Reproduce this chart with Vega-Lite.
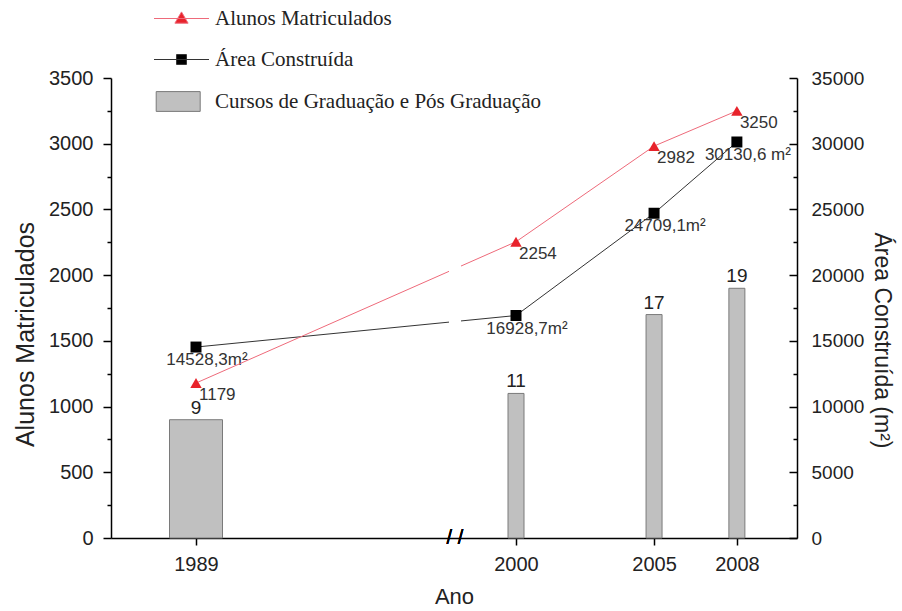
{
  "$schema": "https://vega.github.io/schema/vega-lite/v6.json",
  "width": 686,
  "height": 460,
  "autosize": {"type": "none"},
  "padding": {"left": 111, "top": 78, "right": 105, "bottom": 73},
  "background": "white",
  "config": {
    "view": {"stroke": null},
    "axis": {
      "labelFont": "Liberation Sans",
      "titleFont": "Liberation Sans",
      "labelColor": "#222222",
      "titleColor": "#222222",
      "titleFontWeight": "normal",
      "domainColor": "#000000",
      "domainWidth": 1.5,
      "tickColor": "#000000",
      "tickWidth": 1.5,
      "grid": false
    },
    "legend": {
      "orient": "none",
      "legendX": 60,
      "legendY": -70,
      "padding": 0,
      "symbolSize": 121,
      "symbolStrokeWidth": 1,
      "symbolOpacity": 1,
      "labelFont": "Liberation Serif",
      "labelFontSize": 21,
      "labelColor": "#222222",
      "labelOffset": 23,
      "labelLimit": 0,
      "rowPadding": 19
    }
  },
  "datasets": {
    "dados": [
      {"Ano": 1989, "Alunos": 1179, "Area": 14528.3, "AreaLabel": "14528,3m²", "Cursos": 9},
      {"Ano": 2000, "Alunos": 2254, "Area": 16928.7, "AreaLabel": "16928,7m²", "Cursos": 11},
      {"Ano": 2005, "Alunos": 2982, "Area": 24709.1, "AreaLabel": "24709,1m²", "Cursos": 17},
      {"Ano": 2008, "Alunos": 3250, "Area": 30130.6, "AreaLabel": "30130,6 m²", "Cursos": 19}
    ],
    "legenda": [
      {"serie": "Alunos Matriculados"},
      {"serie": "Área Construída"},
      {"serie": "Cursos de Graduação e Pós Graduação"}
    ]
  },
  "data": {"name": "dados"},
  "encoding": {
    "x": {
      "field": "Ano",
      "type": "quantitative",
      "scale": {"domain": [1986, 1989, 2000, 2010], "range": [0, 85, 405, 686], "zero": false, "nice": false},
      "axis": {
        "values": [1989, 2000, 2005, 2008],
        "format": "d",
        "title": "Ano",
        "titleFontSize": 22,
        "titlePadding": 12,
        "labelFontSize": 20,
        "tickSize": 7,
        "labelPadding": 9
      }
    }
  },
  "layer": [
    {
      "encoding": {
        "y": {"field": "Cursos", "type": "quantitative", "scale": {"domain": [0, 35], "nice": false}, "axis": null}
      },
      "layer": [
        {
          "mark": {"type": "bar", "fill": "#c0c0c0", "stroke": "#7a7a7a", "strokeWidth": 1},
          "encoding": {"size": {"condition": {"test": "datum.Ano === 1989", "value": 53}, "value": 16}}
        },
        {
          "mark": {"type": "text", "baseline": "bottom", "dy": -2, "fontSize": 19, "font": "Liberation Sans", "color": "#222222"},
          "encoding": {"text": {"field": "Cursos", "type": "quantitative"}}
        }
      ]
    },
    {
      "encoding": {
        "y": {
          "field": "Area",
          "type": "quantitative",
          "scale": {"domain": [0, 35000], "nice": false},
          "axis": {
            "orient": "right",
            "values": [0, 2500, 5000, 7500, 10000, 12500, 15000, 17500, 20000, 22500, 25000, 27500, 30000, 32500, 35000],
            "labelExpr": "datum.value % 5000 === 0 ? datum.label : ''",
            "format": "d",
            "tickSize": {"condition": {"test": "datum.value % 5000 === 0", "value": -8}, "value": -4},
            "labelPadding": 22,
            "labelFontSize": 19,
            "title": "Área Construída (m²)",
            "titleFontSize": 23,
            "titlePadding": 6,
            "titleY": 262
          }
        }
      },
      "layer": [
        {"mark": {"type": "line", "color": "#333333", "strokeWidth": 1}},
        {"mark": {"type": "point", "shape": "square", "filled": true, "color": "#000000", "size": 121, "opacity": 1}},
        {
          "mark": {"type": "text", "align": "center", "baseline": "middle", "dx": 11, "dy": 13, "fontSize": 17, "font": "Liberation Sans", "color": "#333333"},
          "encoding": {"text": {"field": "AreaLabel", "type": "nominal"}}
        }
      ]
    },
    {
      "encoding": {
        "y": {
          "field": "Alunos",
          "type": "quantitative",
          "scale": {"domain": [0, 3500], "nice": false},
          "axis": {
            "orient": "left",
            "values": [0, 250, 500, 750, 1000, 1250, 1500, 1750, 2000, 2250, 2500, 2750, 3000, 3250, 3500],
            "labelExpr": "datum.value % 500 === 0 ? datum.label : ''",
            "format": "d",
            "tickSize": {"condition": {"test": "datum.value % 500 === 0", "value": 8}, "value": 4},
            "labelPadding": 10,
            "labelFontSize": 20,
            "title": "Alunos Matriculados",
            "titleFontSize": 25,
            "titlePadding": 10,
            "titleY": 256
          }
        }
      },
      "layer": [
        {"mark": {"type": "line", "color": "#ee6a7a", "strokeWidth": 1}},
        {
          "mark": {"type": "rect", "fill": "white"},
          "encoding": {"x": {"datum": 1997.7}, "x2": {"datum": 1998.1}, "y": {"datum": 700}, "y2": {"datum": 3000}}
        },
        {
          "mark": {"type": "text", "text": "/ /", "fontSize": 20, "font": "Liberation Sans", "baseline": "middle", "align": "center", "color": "#000000"},
          "encoding": {"x": {"datum": 1997.9}, "y": {"datum": 0}}
        },
        {"mark": {"type": "point", "shape": "triangle-up", "filled": true, "color": "#e8232b", "size": 130, "opacity": 1}},
        {
          "mark": {"type": "text", "align": "left", "baseline": "middle", "dx": 3, "dy": 12, "fontSize": 17, "font": "Liberation Sans", "color": "#333333"},
          "encoding": {"text": {"field": "Alunos", "type": "quantitative", "format": "d"}}
        }
      ]
    },
    {
      "data": {"name": "legenda"},
      "mark": {"type": "point", "filled": true, "opacity": 0},
      "encoding": {
        "x": {"value": 0},
        "fill": {
          "field": "serie",
          "type": "nominal",
          "scale": {"domain": ["Alunos Matriculados", "Área Construída", "Cursos de Graduação e Pós Graduação"], "range": ["#e8232b", "#000000", "#c0c0c0"]},
          "legend": {"title": null, "encode": {"symbols": {"update": {"opacity": {"value": 1}}}}}
        },
        "stroke": {
          "field": "serie",
          "type": "nominal",
          "scale": {"domain": ["Alunos Matriculados", "Área Construída", "Cursos de Graduação e Pós Graduação"], "range": ["#ee6a7a", "#333333", "#7a7a7a"]},
          "legend": {"title": null}
        },
        "shape": {
          "field": "serie",
          "type": "nominal",
          "scale": {
            "domain": ["Alunos Matriculados", "Área Construída", "Cursos de Graduação e Pós Graduação"],
            "range": ["M-5,0H5M0,-1.2L1.2,0.85L-1.2,0.85Z", "M-5,0H5M-0.9,-0.9H0.9V0.9H-0.9Z", "M-4.6,-1.8H3.4V1.8H-4.6Z"]
          },
          "legend": {"title": null}
        }
      }
    }
  ],
  "resolve": {"scale": {"y": "independent"}}
}
